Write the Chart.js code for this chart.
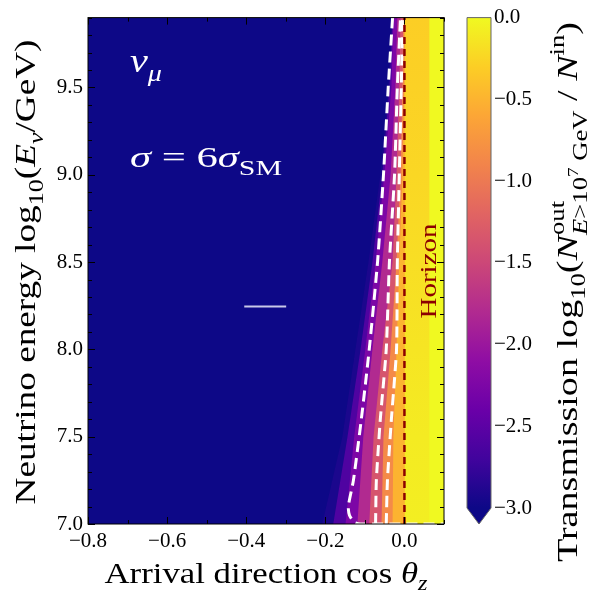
<!DOCTYPE html>
<html>
<head>
<meta charset="utf-8">
<script src="https://cdn.jsdelivr.net/npm/chart.js@4.4.1/dist/chart.umd.min.js"></script>
<style>
  html, body { margin: 0; padding: 0; background: #fff; }
  #wrap { width: 597px; height: 592px; }
</style>
</head>
<body>
<div id="wrap"><canvas id="chart"></canvas></div>
<script>
const SERIF = "'Liberation Serif', 'Times New Roman', serif";

// axes
const xTicks = [-0.8, -0.6, -0.4, -0.2, 0.0];
const yTicks = [7.0, 7.5, 8.0, 8.5, 9.0, 9.5];
const cbTicks = [0.0, -0.5, -1.0, -1.5, -2.0, -2.5, -3.0];

// energies (log10 E/GeV) at which the band edges were read
const energy = [7.0, 7.5, 8.0, 8.5, 9.0, 9.5, 9.9];

// transmission level of each colour band (left to right)
const bandLevels = [-2.92, -2.6, -2.25, -1.8, -1.35, -0.85, -0.5];
// cos(theta_z) of the left edge of each band, per energy
const edge1 = [-0.208, -0.157, -0.124, -0.091, -0.061, -0.041, -0.033];
const edge2 = [-0.180, -0.144, -0.111, -0.081, -0.056, -0.038, -0.030];
const edge3 = [-0.149, -0.127, -0.099, -0.073, -0.051, -0.033, -0.028];
const edge4 = [-0.119, -0.104, -0.081, -0.056, -0.035, -0.023, -0.018];
const edge5 = [-0.089, -0.078, -0.056, -0.030, -0.020, -0.013, -0.010];
const edge6 = [-0.058, -0.053, -0.035, -0.020, -0.010, -0.005, -0.003];
const edge7 = [-0.030, -0.028, -0.020, -0.013, -0.005, -0.001, 0.000];
const bandEdges = [edge1, edge2, edge3, edge4, edge5, edge6, edge7];

// band just above the horizon: level changes with energy
const aboveEdge = [0.001, 0.001, 0.001, 0.001, 0.001, 0.001, 0.001];
const aboveLevel = [-0.08, -0.1, -0.14, -0.19, -0.24, -0.28, -0.3];
// fully transmitted strip on the right
const fullEdge = [0.063, 0.063, 0.063, 0.063, 0.063, 0.063, 0.063];

// white dashed contours
const c1Energy = [9.9, 9.5, 9.0, 8.5, 8.0, 7.6, 7.25, 7.1, 7.05, 7.01, 7.0, 7.0];
const c1Cos = [-0.030, -0.041, -0.053, -0.068, -0.089, -0.109, -0.129, -0.142, -0.139, -0.127, -0.111, 0.1];
const cEnergy = [7.0, 7.25, 7.6, 8.0, 8.5, 9.0, 9.5, 9.9];
const c2Cos = [-0.073, -0.071, -0.061, -0.046, -0.038, -0.025, -0.018, -0.010];
const c3Cos = [-0.046, -0.043, -0.033, -0.020, -0.018, -0.013, -0.008, -0.005];

// horizon and the short white marker
const horizonCos = 0.0;
const markCos = [-0.405, -0.299];
const markEnergy = 8.245;

// plasma colormap
const plasmaStops = ['#0d0887', '#41049d', '#6a00a8', '#8f0da4', '#b12a90', '#cc4778',
  '#e16462', '#f2844b', '#fca636', '#fcce25', '#f0f921'];
const hexRgb = (h) => [1, 3, 5].map(i => parseInt(h.slice(i, i + 2), 16));
function plasma(t) {
  t = Math.min(1, Math.max(0, t));
  const f = t * 10, i = Math.min(9, Math.floor(f)), u = f - i;
  const a = hexRgb(plasmaStops[i]), b = hexRgb(plasmaStops[i + 1]);
  const c = a.map((v, k) => Math.round(v + (b[k] - v) * u));
  return `rgb(${c[0]},${c[1]},${c[2]})`;
}
const levelColor = (v) => plasma((v + 3) / 3);

function edgeSet(cos, color, order) {
  return {
    data: energy.map((e, i) => ({ x: cos[i], y: e })),
    borderColor: 'rgba(0,0,0,0)',
    borderWidth: 0,
    backgroundColor: color,
    fill: { value: 0.1 },
    pointRadius: 0,
    tension: 0,
    order,
  };
}

const datasets = [];
datasets.push(edgeSet(energy.map(() => -0.8), levelColor(-3), 30));
bandEdges.forEach((cos, i) => datasets.push(edgeSet(cos, levelColor(bandLevels[i]), 29 - i)));
datasets.push(edgeSet(aboveEdge, (ctx) => {
  const chart = ctx.chart;
  const area = chart.chartArea;
  if (!area) return levelColor(-0.2);
  const g = chart.ctx.createLinearGradient(0, area.bottom, 0, area.top);
  energy.forEach((e, i) => {
    const p = chart.scales.y.getPixelForValue(e);
    g.addColorStop((area.bottom - p) / (area.bottom - area.top), levelColor(aboveLevel[i]));
  });
  return g;
}, 15));
datasets.push(edgeSet(fullEdge, levelColor(0), 14));

const dashed = (pts) => ({
  data: pts,
  borderColor: '#ffffff',
  borderWidth: 3,
  borderDash: [11, 6],
  fill: false,
  pointRadius: 0,
  tension: 0.2,
  order: 3,
});
datasets.push(dashed(c1Energy.map((e, i) => ({ x: c1Cos[i], y: e }))));
datasets.push(dashed(cEnergy.map((e, i) => ({ x: c2Cos[i], y: e }))));
datasets.push(dashed(cEnergy.map((e, i) => ({ x: c3Cos[i], y: e }))));
datasets.push({
  data: [{ x: horizonCos, y: 7.0 }, { x: horizonCos, y: 9.9 }],
  borderColor: '#8b0000',
  borderWidth: 2.5,
  borderDash: [7, 5],
  fill: false,
  pointRadius: 0,
  order: 2,
});
datasets.push({
  data: markCos.map(c => ({ x: c, y: markEnergy })),
  borderColor: 'rgba(235,235,250,0.85)',
  borderWidth: 2,
  fill: false,
  pointRadius: 0,
  order: 1,
});

// rich text: parts drawn one after the other, sub/superscripts by dy
const fontOf = (p, size) => `${p.it ? 'italic ' : ''}${(size * (p.sc || 1)).toFixed(1)}px ${SERIF}`;
function drawRich(ctx, parts, o) {
  ctx.save();
  ctx.translate(o.x, o.y);
  if (o.rot) ctx.rotate(o.rot);
  ctx.fillStyle = o.color || '#000';
  ctx.textBaseline = 'alphabetic';
  ctx.textAlign = 'left';
  let w = 0;
  for (const p of parts) {
    ctx.font = fontOf(p, o.size);
    if (p.adv !== false) w += ctx.measureText(p.t).width;
  }
  ctx.scale(o.width ? o.width / w : 1, 1);
  let x = o.align === 'left' ? 0 : -w / 2;
  for (const p of parts) {
    ctx.font = fontOf(p, o.size);
    ctx.fillText(p.t, x, (p.dy || 0) * o.size);
    if (p.adv !== false) x += ctx.measureText(p.t).width;
  }
  ctx.restore();
}

const decor = {
  id: 'decor',
  afterDraw(chart) {
    const { ctx, chartArea: a, scales } = chart;
    const xs = scales.x, ys = scales.y;

    // frame + inward ticks
    ctx.save();
    ctx.strokeStyle = '#000';
    ctx.lineWidth = 1;
    ctx.strokeRect(a.left, a.top, a.right - a.left, a.bottom - a.top);
    ctx.beginPath();
    for (let v = -0.8; v <= 0.1001; v += 0.1) {
      const px = Math.round(xs.getPixelForValue(v)) + 0.5;
      const len = xTicks.some(t => Math.abs(t - v) < 1e-6) ? 7 : 4;
      ctx.moveTo(px, a.bottom); ctx.lineTo(px, a.bottom - len);
      ctx.moveTo(px, a.top); ctx.lineTo(px, a.top + len);
    }
    for (let v = 7.0; v <= 9.9001; v += 0.1) {
      const py = Math.round(ys.getPixelForValue(v)) + 0.5;
      const len = yTicks.some(t => Math.abs(t - v) < 1e-6) ? 7 : 4;
      ctx.moveTo(a.left, py); ctx.lineTo(a.left + len, py);
      ctx.moveTo(a.right, py); ctx.lineTo(a.right - len, py);
    }
    ctx.stroke();
    ctx.restore();

    // colorbar
    const cl = a.right + 23, cr = cl + 24, ct = a.top, cb = a.bottom - 16;
    ctx.save();
    const g = ctx.createLinearGradient(0, cb, 0, ct);
    plasmaStops.forEach((c, i) => g.addColorStop(i / 10, c));
    ctx.fillStyle = g;
    ctx.fillRect(cl, ct, cr - cl, cb - ct);
    ctx.fillStyle = levelColor(-3);
    ctx.beginPath();
    ctx.moveTo(cl, cb); ctx.lineTo(cr, cb); ctx.lineTo((cl + cr) / 2, a.bottom); ctx.closePath();
    ctx.fill();
    ctx.strokeStyle = '#666';
    ctx.lineWidth = 1;
    ctx.beginPath();
    ctx.moveTo(cl, ct); ctx.lineTo(cr, ct); ctx.lineTo(cr, cb);
    ctx.lineTo((cl + cr) / 2, a.bottom); ctx.lineTo(cl, cb); ctx.closePath();
    ctx.stroke();
    ctx.fillStyle = '#000';
    ctx.font = `21px ${SERIF}`;
    ctx.textAlign = 'left';
    ctx.textBaseline = 'middle';
    cbTicks.forEach(v => {
      const py = ct + (-v / 3) * (cb - ct);
      ctx.fillText((v < 0 ? '\u2212' : '') + Math.abs(v).toFixed(1), cr + 3, py);
    });
    ctx.restore();

    // axis titles
    drawRich(ctx, [
      { t: 'Arrival direction cos ' }, { t: 'θ', it: true }, { t: 'z', it: true, sc: 0.7, dy: 0.22 },
    ], { x: (a.left + a.right) / 2, y: 583, size: 30, width: 323 });
    drawRich(ctx, [
      { t: 'Neutrino energy log' }, { t: '10', sc: 0.7, dy: 0.25 }, { t: '(' }, { t: 'E', it: true },
      { t: 'ν', it: true, sc: 0.7, dy: 0.25 }, { t: '/GeV)' },
    ], { x: 35, y: 272, size: 30, rot: -Math.PI / 2, width: 465 });
    drawRich(ctx, [
      { t: 'Transmission log' }, { t: '10', sc: 0.7, dy: 0.25 }, { t: '(' }, { t: 'N', it: true },
      { t: 'out', sc: 0.7, dy: -0.42, adv: false },
      { t: 'E', it: true, sc: 0.7, dy: 0.32 }, { t: '>10', sc: 0.7, dy: 0.32 }, { t: '7', sc: 0.5, dy: 0.02 },
      { t: ' GeV', sc: 0.7, dy: 0.32 }, { t: ' / ' }, { t: 'N', it: true }, { t: 'in', sc: 0.7, dy: -0.42 }, { t: ')' },
    ], { x: 577, y: 292, size: 30, rot: -Math.PI / 2, width: 540 });

    // in-plot labels
    drawRich(ctx, [{ t: 'ν', it: true }, { t: 'μ', it: true, sc: 0.7, dy: 0.25 }],
      { x: 130, y: 72, size: 34, align: 'left', width: 32, color: '#fff' });
    drawRich(ctx, [{ t: 'σ', it: true }, { t: ' = ' }, { t: '6' }, { t: 'σ', it: true }, { t: 'SM', sc: 0.7, dy: 0.25 }],
      { x: 130, y: 167, size: 30, align: 'left', width: 152, color: '#fff' });
    drawRich(ctx, [{ t: 'Horizon' }],
      { x: 436, y: 271, size: 24, rot: -Math.PI / 2, width: 95, color: '#8b0000' });
  },
};

const tickFmt = (v) => (v < 0 ? '\u2212' : '') + Math.abs(v).toFixed(1);

new Chart(document.getElementById('chart'), {
  type: 'line',
  data: { datasets },
  options: {
    indexAxis: 'y',
    responsive: true,
    maintainAspectRatio: false,
    animation: false,
    events: [],
    layout: { padding: { left: 0, right: 153, top: 14, bottom: 0 } },
    plugins: {
      legend: { display: false },
      tooltip: { enabled: false },
    },
    scales: {
      x: {
        type: 'linear',
        min: -0.8,
        max: 0.1,
        grid: { display: false, drawTicks: false },
        border: { display: false },
        afterBuildTicks: (s) => { s.ticks = xTicks.map(v => ({ value: v })); },
        afterFit: (s) => { s.height = 68; },
        ticks: {
          font: { size: 21, family: SERIF },
          color: '#000',
          padding: 5,
          maxRotation: 0,
          autoSkip: false,
          callback: tickFmt,
        },
      },
      y: {
        type: 'linear',
        min: 7.0,
        max: 9.9,
        grid: { display: false, drawTicks: false },
        border: { display: false },
        afterBuildTicks: (s) => { s.ticks = yTicks.map(v => ({ value: v })); },
        afterFit: (s) => { s.width = 88; },
        ticks: {
          font: { size: 21, family: SERIF },
          color: '#000',
          padding: 5,
          autoSkip: false,
          callback: tickFmt,
        },
      },
    },
  },
  plugins: [decor],
});
</script>
</body>
</html>
